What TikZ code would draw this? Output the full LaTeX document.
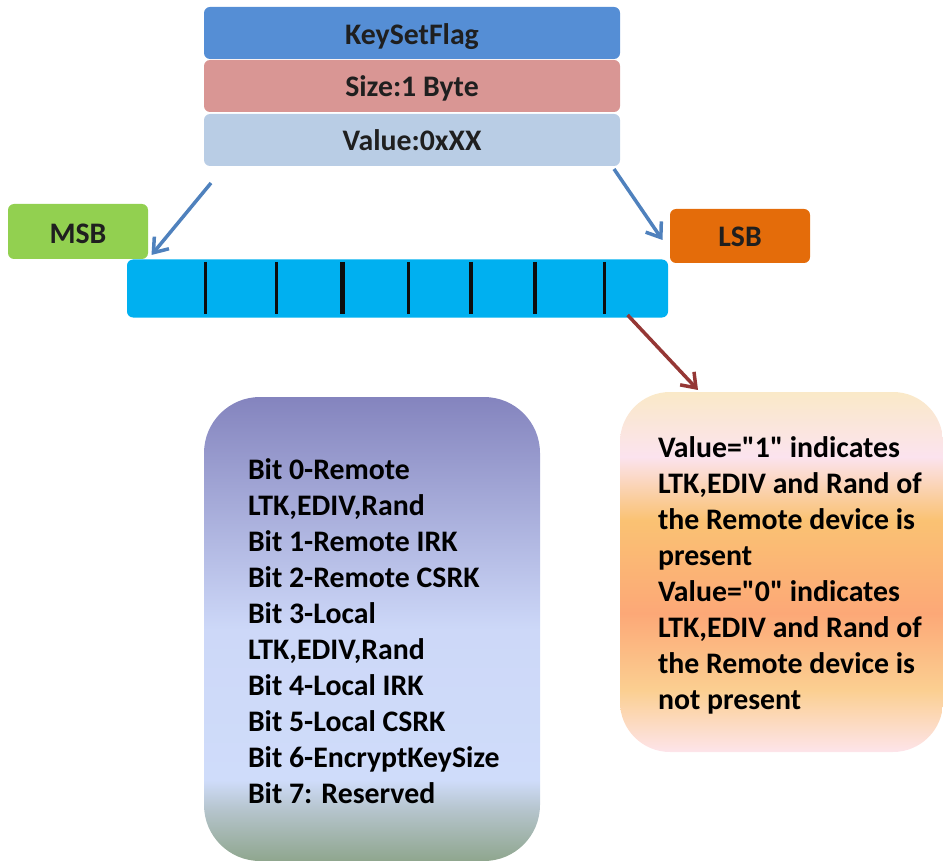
\documentclass[tikz,border=0pt]{standalone}
\usepackage{fontspec}
\setmainfont{Carlito}[Ligatures=TeXOff]
\usetikzlibrary{arrows.meta}
\definecolor{oa}{HTML}{FAE9C8}\definecolor{ob}{HTML}{FBE3EE}\definecolor{oc}{HTML}{FAC273}
\definecolor{od}{HTML}{FCA877}\definecolor{oe}{HTML}{FBCF91}\definecolor{of}{HTML}{FDE4EA}
\definecolor{pa}{HTML}{8484BE}\definecolor{pb}{HTML}{CDD8F8}\definecolor{pc}{HTML}{CFDCFA}
\definecolor{pd}{HTML}{B5C4CC}\definecolor{pe}{HTML}{8FA68E}
\pgfdeclareverticalshading{orangeshade}{100bp}{color(0bp)=(of); color(25bp)=(of); color(33.6bp)=(oe); color(44.3bp)=(od); color(57.2bp)=(oc); color(66bp)=(ob); color(75bp)=(oa); color(100bp)=(oa)}
\pgfdeclareverticalshading{purpleshade}{100bp}{color(0bp)=(pe); color(25bp)=(pe); color(30.5bp)=(pd); color(33.7bp)=(pc); color(49.9bp)=(pb); color(75bp)=(pa); color(100bp)=(pa)}
\tikzset{
  box/.style={inner sep=0pt,outer sep=0pt,rounded corners=6pt,text depth=0pt,font=\fontsize{29.8}{36}\selectfont\bfseries,text=black!88},
  bigbox/.style={inner sep=0pt,outer sep=0pt},
  txt/.style={inner sep=0pt,outer sep=0pt,anchor=north west,align=left,text=black,font=\fontsize{29.8}{36}\selectfont\bfseries},
  bluearrow/.style={draw={rgb,255:red,79;green,129;blue,189},line width=3.5pt,-{Straight Barb[length=13pt,width=19pt,line width=3.5pt]}},
  redarrow/.style={draw={rgb,255:red,149;green,55;blue,53},line width=3.5pt,-{Straight Barb[length=13pt,width=19pt,line width=3.5pt]}},
  divider/.style={draw=black!95}
}
\begin{document}
\begin{tikzpicture}[x=1pt,y=-1pt]
\useasboundingbox (0,0) rectangle (943,861);
\node[box,text height=24pt,fill={rgb,255:red,85;green,142;blue,213},minimum width=416pt,minimum height=52pt] (flag) at (412,33) {KeySetFlag};
\node[box,text height=22pt,fill={rgb,255:red,217;green,150;blue,148},minimum width=416pt,minimum height=52pt] (size) at (412,86) {Size:1 Byte};
\node[box,text height=22pt,fill={rgb,255:red,185;green,205;blue,229},minimum width=416pt,minimum height=52pt] (value) at (412,140) {Value:0xXX};
\node[box,text height=24pt,fill={rgb,255:red,146;green,208;blue,80},minimum width=140pt,minimum height=55pt] (msb) at (78,231.5) {MSB};
\node[box,text height=21pt,fill={rgb,255:red,228;green,108;blue,10},minimum width=140pt,minimum height=54pt] (lsb) at (740,236) {LSB};
\node[box,fill={rgb,255:red,0;green,176;blue,240},minimum width=541pt,minimum height=58pt] (bar) at (397.5,288.5) {};
\foreach \n/\x/\w in {a/205.7/3,b/276/3,c/342.5/5,d/408/3,e/471/4,f/535/4,g/604/3}{
  \coordinate (\n t) at (\x,262);
  \coordinate (\n b) at (\x,314);
  \draw[divider,line width=\w pt] (\n t) -- (\n b);
}
\node[bigbox,shading=purpleshade,rounded corners=56pt,minimum width=336pt,minimum height=464pt] (bits) at (372,629) {};
\node[bigbox,shading=orangeshade,rounded corners=50pt,minimum width=323pt,minimum height=360pt] (note) at (781.5,572) {};
\node[txt] (bitstext) at (248,458.5) {Bit 0-Remote\\LTK,EDIV,Rand\\Bit 1-Remote IRK\\Bit 2-Remote CSRK\\Bit 3-Local\\LTK,EDIV,Rand\\Bit 4-Local IRK\\Bit 5-Local CSRK\\Bit 6-EncryptKeySize\\Bit 7: Reserved};
\node[txt] (notetext) at (658,436.5) {Value="1" indicates\\LTK,EDIV and Rand of\\the Remote device is\\present\\Value="0" indicates\\LTK,EDIV and Rand of\\the Remote device is\\not present};
\coordinate (s1) at (211,183);
\coordinate (e1) at (151.5,255);
\coordinate (s2) at (614,169);
\coordinate (e2) at (662.5,240);
\coordinate (s3) at (627.6,315);
\coordinate (e3) at (698,390);
\draw[bluearrow] (s1) -- (e1);
\draw[bluearrow] (s2) -- (e2);
\draw[redarrow] (s3) -- (e3);
\end{tikzpicture}
\end{document}
